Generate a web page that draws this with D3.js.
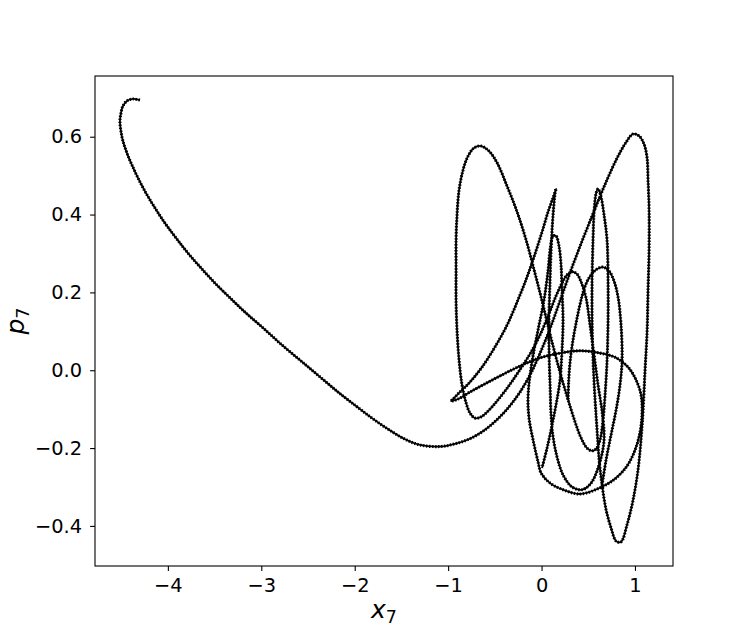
<!DOCTYPE html>
<html>
<head>
<meta charset="utf-8" />
<title>x7 / p7 phase portrait</title>
<script src="https://d3js.org/d3.v7.min.js"></script>
<style>
  body { margin: 0; background: #fff; }
  text { font-family: "DejaVu Sans", sans-serif; }
</style>
</head>
<body>
<div id="chart"></div>
<script>
// trajectory pieces, as [x7, p7] pairs
const bigArc = [
  [-4.299, 0.694], [-4.374, 0.697], [-4.438, 0.692], [-4.481, 0.679], [-4.502, 0.661],
  [-4.513, 0.640], [-4.502, 0.614], [-4.481, 0.589], [-4.438, 0.558], [-4.384, 0.527],
  [-4.320, 0.494], [-4.234, 0.455], [-4.138, 0.417], [-4.031, 0.378], [-3.913, 0.340],
  [-3.785, 0.301], [-3.646, 0.263], [-3.496, 0.224], [-3.335, 0.186], [-3.164, 0.147],
  [-2.982, 0.109], [-2.789, 0.067], [-2.586, 0.026], [-2.382, -0.015], [-2.179, -0.056],
  [-1.986, -0.092], [-1.804, -0.125], [-1.633, -0.153], [-1.472, -0.176], [-1.301, -0.192],
  [-1.087, -0.196], [-0.926, -0.189], [-0.766, -0.176], [-0.616, -0.155], [-0.476, -0.127],
  [-0.348, -0.094], [-0.230, -0.056], [-0.112, -0.007], [-0.005, 0.050], [0.102, 0.114],
  [0.209, 0.186], [0.316, 0.258], [0.434, 0.332], [0.562, 0.409], [0.691, 0.484],
  [0.808, 0.545], [0.905, 0.586]
];
const rightLobe = [
  [0.980, 0.607], [1.044, 0.602], [1.097, 0.581], [1.130, 0.545], [1.140, 0.489],
  [1.151, 0.412], [1.151, 0.309], [1.140, 0.206], [1.130, 0.104], [1.108, 0.001],
  [1.087, -0.102], [1.065, -0.179], [1.033, -0.256], [0.980, -0.333], [0.915, -0.397],
  [0.851, -0.441], [0.798, -0.439], [0.744, -0.405], [0.691, -0.359], [0.648, -0.295],
  [0.616, -0.230], [0.594, -0.153], [0.573, -0.076], [0.551, 0.026], [0.541, 0.129],
  [0.541, 0.232], [0.551, 0.335], [0.562, 0.407], [0.584, 0.455], [0.605, 0.466],
  [0.637, 0.445], [0.669, 0.399], [0.701, 0.335], [0.712, 0.232], [0.712, 0.129],
  [0.701, 0.026], [0.680, -0.063], [0.658, -0.128], [0.626, -0.179], [0.584, -0.202],
  [0.541, -0.207], [0.487, -0.200], [0.423, -0.174], [0.359, -0.133], [0.284, -0.076]
];
const leftLobe = [
  [0.209, -0.015], [0.134, 0.052], [0.059, 0.124], [-0.005, 0.188], [-0.080, 0.258],
  [-0.166, 0.335], [-0.262, 0.407], [-0.369, 0.473], [-0.476, 0.533], [-0.562, 0.563],
  [-0.648, 0.576], [-0.723, 0.571], [-0.787, 0.550], [-0.840, 0.515], [-0.883, 0.463],
  [-0.905, 0.399], [-0.915, 0.335], [-0.915, 0.258], [-0.915, 0.181], [-0.905, 0.104],
  [-0.883, 0.026], [-0.851, -0.038], [-0.808, -0.084], [-0.766, -0.110], [-0.712, -0.123],
  [-0.648, -0.120], [-0.573, -0.105], [-0.476, -0.079], [-0.359, -0.043], [-0.241, -0.002],
  [-0.123, 0.042], [-0.016, 0.091], [0.080, 0.145], [0.155, 0.191], [0.219, 0.224],
  [0.273, 0.245], [0.327, 0.253], [0.380, 0.247], [0.423, 0.227]
];
const middleLoops = [
  [0.476, 0.186], [0.519, 0.116], [0.562, 0.039], [0.605, -0.038], [0.648, -0.107],
  [0.669, -0.179], [0.616, -0.243], [0.530, -0.290], [0.434, -0.307],
  [0.327, -0.300], [0.230, -0.269], [0.166, -0.223], [0.123, -0.171], [0.102, -0.115],
  [0.091, -0.038], [0.080, 0.052], [0.080, 0.142], [0.091, 0.232], [0.102, 0.309],
  [0.123, 0.399], [0.145, 0.455], [0.155, 0.466], [0.123, 0.443], [0.070, 0.407],
  [0.005, 0.355], [-0.070, 0.299], [-0.155, 0.240], [-0.252, 0.181], [-0.369, 0.116],
  [-0.498, 0.060], [-0.637, 0.008], [-0.776, -0.033], [-0.883, -0.058], [-0.948, -0.074]
];
const ellipse = [
  [-0.969, -0.079], [-0.894, -0.074], [-0.766, -0.056], [-0.605, -0.035], [-0.423, -0.012],
  [-0.230, 0.011], [-0.016, 0.032], [0.198, 0.044], [0.412, 0.050], [0.626, 0.044],
  [0.798, 0.032], [0.926, 0.008], [1.012, -0.025], [1.065, -0.063], [1.076, -0.110],
  [1.055, -0.158], [1.001, -0.205], [0.915, -0.246], [0.787, -0.279], [0.626, -0.302],
  [0.412, -0.318], [0.230, -0.307], [0.091, -0.290], [-0.005, -0.264]
];
const lastHump = [
  [-0.037, -0.236], [-0.091, -0.179], [-0.134, -0.123], [-0.145, -0.071], [-0.123, -0.012],
  [-0.080, 0.052], [-0.027, 0.116], [0.027, 0.181], [0.070, 0.258], [0.091, 0.309],
  [0.123, 0.345], [0.155, 0.345], [0.187, 0.319], [0.209, 0.270], [0.219, 0.206],
  [0.230, 0.129], [0.219, 0.052], [0.198, -0.025], [0.155, -0.089], [0.112, -0.141],
  [0.059, -0.200], [0.005, -0.251]
];
// medium loop around x7 = 0.66, drawn as its own piece
const mediumLoop = [
  [0.648, -0.295], [0.691, -0.230], [0.744, -0.166], [0.798, -0.102], [0.840, -0.038],
  [0.862, 0.026], [0.851, 0.116], [0.819, 0.188], [0.776, 0.229], [0.723, 0.255],
  [0.658, 0.265], [0.594, 0.260], [0.530, 0.245], [0.476, 0.222], [0.434, 0.191],
  [0.380, 0.134], [0.337, 0.078], [0.305, 0.021], [0.290, -0.030], [0.284, -0.076]
];

const xTicks = [-4, -3, -2, -1, 0, 1];
const yTicks = [-0.4, -0.2, 0.0, 0.2, 0.4, 0.6];
const xDomain = [-4.78, 1.407];
const yDomain = [-0.503, 0.756];

const width = 748, height = 637;
const margin = { top: 76, right: 75, bottom: 71, left: 95 };

const svg = d3.select("#chart").append("svg")
  .attr("width", width)
  .attr("height", height);

const x = d3.scaleLinear().domain(xDomain).range([margin.left, width - margin.right]);
const y = d3.scaleLinear().domain(yDomain).range([height - margin.bottom, margin.top]);

const mainTraj = [].concat(bigArc, rightLobe, leftLobe, middleLoops, ellipse, lastHump);
const pieces = [mainTraj, mediumLoop];

const line = d3.line()
  .x(d => x(d[0]))
  .y(d => y(d[1]))
  .curve(d3.curveCatmullRom.alpha(0.5));

// thin line plus a beaded stroke to look like the dense markers
svg.selectAll(".core").data(pieces).enter().append("path")
  .attr("class", "core")
  .attr("d", line)
  .attr("fill", "none")
  .attr("stroke", "#000")
  .attr("stroke-width", 1.8);
svg.selectAll(".beads").data(pieces).enter().append("path")
  .attr("class", "beads")
  .attr("d", line)
  .attr("fill", "none")
  .attr("stroke", "#000")
  .attr("stroke-width", 3.1)
  .attr("stroke-dasharray", "1.4 1.6");

svg.append("g")
  .attr("transform", "translate(0," + (height - margin.bottom) + ")")
  .call(d3.axisBottom(x).tickValues(xTicks).tickFormat(d3.format("d")).tickSize(4.9).tickPadding(7))
  .call(g => g.select(".domain").remove())
  .call(g => g.selectAll("line").attr("stroke-width", 1.1))
  .call(g => g.selectAll("text").attr("font-size", "19.4px").attr("font-family", "DejaVu Sans").attr("fill", "#000"));

svg.append("g")
  .attr("transform", "translate(" + margin.left + ",0)")
  .call(d3.axisLeft(y).tickValues(yTicks).tickFormat(d3.format(".1f")).tickSize(4.9).tickPadding(8))
  .call(g => g.select(".domain").remove())
  .call(g => g.selectAll("line").attr("stroke-width", 1.1))
  .call(g => g.selectAll("text").attr("font-size", "19.4px").attr("font-family", "DejaVu Sans").attr("fill", "#000"));

// frame
svg.append("rect")
  .attr("x", margin.left)
  .attr("y", margin.top)
  .attr("width", width - margin.left - margin.right)
  .attr("height", height - margin.top - margin.bottom)
  .attr("fill", "none")
  .attr("stroke", "#000")
  .attr("stroke-width", 1.1);

// axis labels
const xl = svg.append("text")
  .attr("x", (margin.left + width - margin.right) / 2)
  .attr("y", 618)
  .attr("text-anchor", "middle")
  .attr("font-size", "25px");
xl.append("tspan").attr("font-style", "italic").text("x");
xl.append("tspan").attr("font-size", "17.5px").attr("dy", "4.5").text("7");

const yl = svg.append("text")
  .attr("transform", "translate(24," + ((margin.top + height - margin.bottom) / 2) + ") rotate(-90)")
  .attr("text-anchor", "middle")
  .attr("font-size", "25px");
yl.append("tspan").attr("font-style", "italic").text("p");
yl.append("tspan").attr("font-size", "17.5px").attr("dy", "4.5").text("7");
</script>
</body>
</html>
